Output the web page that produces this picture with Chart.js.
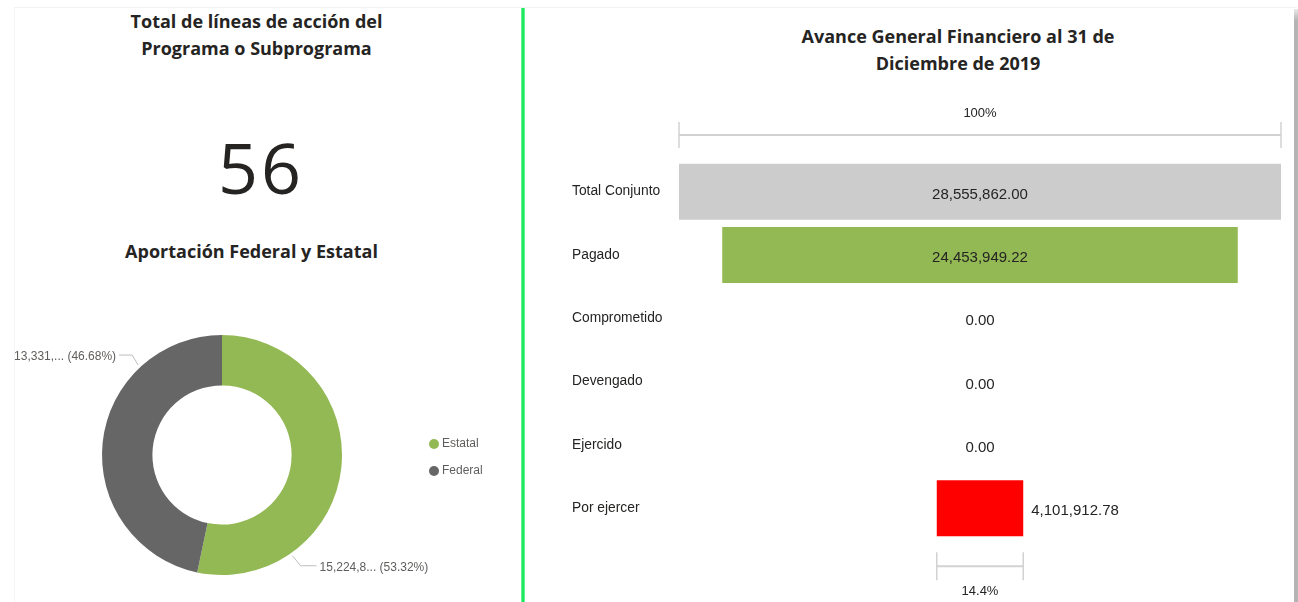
<!DOCTYPE html>
<html>
<head>
<meta charset="utf-8">
<script src="https://cdn.jsdelivr.net/npm/chart.js@4.4.1/dist/chart.umd.min.js"></script>
<style>
html,body{margin:0;padding:0;background:#fff;}
body{width:1298px;height:602px;overflow:hidden;position:relative;font-family:"Open Sans",Lato,sans-serif;}
.frame{position:absolute;left:14px;top:7px;width:1282px;height:600px;border-top:1px solid #f2f2f2;border-left:1px solid #f4f4f4;}
.shadow{position:absolute;left:1294px;top:9px;width:4px;height:593px;background:linear-gradient(to bottom,#e8e8e8 0px,#b4b4b4 12px,#b4b4b4 100%);}
.divider{position:absolute;left:521px;top:8px;width:4px;height:594px;background:linear-gradient(to right,#8dffb5 0%,#1ee860 30%,#1ee860 70%,#8dffb5 100%);}
.title{position:absolute;color:#252423;font-family:"Open Sans",sans-serif;font-weight:700;font-size:18px;text-align:center;line-height:27px;white-space:nowrap;}
.kpi{position:absolute;color:#252423;font-family:"Open Sans",sans-serif;font-weight:500;font-size:70px;text-align:center;line-height:70px;letter-spacing:3px;}
canvas{position:absolute;}
</style>
</head>
<body>
<div class="frame"></div>
<div class="shadow"></div>
<div class="divider"></div>

<div id="t1" class="title" style="left:14px;top:8px;width:485px;"></div>
<div id="kpi" class="kpi" style="left:111px;top:132px;width:300px;"></div>
<div id="t2" class="title" style="left:14px;top:238px;width:475px;"></div>
<div id="t3" class="title" style="left:700px;top:23px;width:516px;"></div>

<canvas id="donut" width="520" height="282" style="left:0px;top:320px;"></canvas>
<canvas id="funnel" width="735" height="502" style="left:560px;top:100px;"></canvas>

<script>
// ---------- DATA ----------
const titleKpi = ['Total de líneas de acción del', 'Programa o Subprograma'];
const kpiValue = 56;
const titleDonut = 'Aportación Federal y Estatal';
const titleFunnel = ['Avance General Financiero al 31 de', 'Diciembre de 2019'];

const donutLabels = ['Estatal', 'Federal'];
const donutValues = [15224850, 13331012];
const donutColors = ['#93B955', '#666666'];
const donutTruncChars = [8, 7];

const stages = ['Total Conjunto', 'Pagado', 'Comprometido', 'Devengado', 'Ejercido', 'Por ejercer'];
const amounts = [28555862.00, 24453949.22, 0, 0, 0, 4101912.78];
const stageColors = ['#CCCCCC', '#93B955', '#93B955', '#93B955', '#93B955', '#FF0000'];

// ---------- TEXT ----------
document.getElementById('t1').innerHTML = titleKpi.join('<br>');
document.getElementById('kpi').textContent = String(kpiValue);
document.getElementById('t2').textContent = titleDonut;
document.getElementById('t3').innerHTML = titleFunnel.join('<br>');

const fmt2 = v => v.toLocaleString('en-US', {minimumFractionDigits: 2, maximumFractionDigits: 2});
const fmt0 = v => v.toLocaleString('en-US', {maximumFractionDigits: 0});

// ---------- DONUT ----------
const donutDeco = {
  id: 'donutDeco',
  afterDraw(chart) {
    const ctx = chart.ctx;
    const meta = chart.getDatasetMeta(0);
    const total = donutValues.reduce((a, b) => a + b, 0);
    const anchors = [{ang: 55, dx: 8, dy: 10, len: 16, side: 1}, {ang: 227, dx: -6, dy: -10, len: 13, side: -1}];
    ctx.save();
    ctx.font = '12px "Liberation Sans", Arial, sans-serif';
    ctx.textBaseline = 'middle';
    meta.data.forEach((arc, i) => {
      const a = anchors[i];
      const r = arc.outerRadius + 3;
      const rad = a.ang * Math.PI / 180;
      const x0 = arc.x + r * Math.cos(rad), y0 = arc.y + r * Math.sin(rad);
      const x1 = x0 + a.dx, y1 = y0 + a.dy;
      const x2 = x1 + a.side * a.len;
      ctx.strokeStyle = '#bdbdbd';
      ctx.lineWidth = 1;
      ctx.beginPath();
      ctx.moveTo(x0, y0); ctx.lineTo(x1, y1); ctx.lineTo(x2, y1);
      ctx.stroke();
      const full = fmt0(donutValues[i]);
      const pct = (donutValues[i] / total * 100).toFixed(2);
      const txt = full.slice(0, donutTruncChars[i]) + '... (' + pct + '%)';
      ctx.fillStyle = '#605E5C';
      ctx.textAlign = a.side > 0 ? 'left' : 'right';
      ctx.fillText(txt, x2 + a.side * 3, y1 + 2);
    });
    const lx = chart.chartArea.right + 92, ly0 = chart.chartArea.top + 109;
    donutLabels.forEach((lab, i) => {
      const y = ly0 + i * 27;
      ctx.fillStyle = donutColors[i];
      ctx.beginPath(); ctx.arc(lx, y, 5, 0, Math.PI * 2); ctx.fill();
      ctx.fillStyle = '#605E5C';
      ctx.textAlign = 'left';
      ctx.fillText(lab, lx + 8, y);
    });
    ctx.restore();
  }
};

new Chart(document.getElementById('donut'), {
  type: 'doughnut',
  data: {labels: donutLabels, datasets: [{data: donutValues, backgroundColor: donutColors, borderWidth: 0}]},
  options: {
    responsive: false, animation: false, cutout: '58%',
    layout: {padding: {left: 102, right: 178, top: 15, bottom: 27}},
    plugins: {legend: {display: false}, tooltip: {enabled: false}}
  },
  plugins: [donutDeco]
});

// ---------- FUNNEL ----------
const funnelDeco = {
  id: 'funnelDeco',
  afterDatasetsDraw(chart) {
    const ctx = chart.ctx;
    const xs = chart.scales.x;
    const meta = chart.getDatasetMeta(0);
    const ca = chart.chartArea;
    ctx.save();
    ctx.textBaseline = 'middle';
    ctx.font = '15px "Liberation Sans", Arial, sans-serif';
    ctx.fillStyle = '#252423';
    meta.data.forEach((bar, i) => {
      const txt = fmt2(amounts[i]);
      const w = ctx.measureText(txt).width;
      const bw = Math.abs(xs.getPixelForValue(amounts[i] / 2) - xs.getPixelForValue(-amounts[i] / 2));
      const cx = xs.getPixelForValue(0);
      if (amounts[i] > 0 && w + 4 > bw) {
        ctx.textAlign = 'left';
        ctx.fillText(txt, cx + bw / 2 + 8, bar.y + 3);
      } else {
        ctx.textAlign = 'center';
        ctx.fillText(txt, cx, bar.y + 3);
      }
    });
    const bracket = (v, y, h) => {
      const l = xs.getPixelForValue(-v / 2), r = xs.getPixelForValue(v / 2);
      ctx.strokeStyle = '#d2d2d2';
      ctx.lineWidth = 2;
      ctx.beginPath(); ctx.moveTo(l, y); ctx.lineTo(r, y); ctx.stroke();
      ctx.lineWidth = 1.5;
      ctx.beginPath();
      ctx.moveTo(l, y - h); ctx.lineTo(l, y + h);
      ctx.moveTo(r, y - h); ctx.lineTo(r, y + h);
      ctx.stroke();
    };
    ctx.font = '13px "Liberation Sans", Arial, sans-serif';
    ctx.fillStyle = '#252423';
    ctx.textAlign = 'center';
    const cx = xs.getPixelForValue(0);
    const yTop = ca.top - 25;
    bracket(amounts[0], yTop, 13);
    ctx.fillText('100%', cx, yTop - 22);
    const last = amounts.length - 1;
    const lb = meta.data[last];
    const yBot = lb.y + lb.height / 2 + 30;
    bracket(amounts[last], yBot, 14);
    ctx.fillText((amounts[last] / amounts[0] * 100).toFixed(1) + '%', cx, yBot + 25);
    ctx.restore();
  }
};

new Chart(document.getElementById('funnel'), {
  type: 'bar',
  data: {
    labels: stages,
    datasets: [{
      data: amounts.map(v => [-v / 2, v / 2]),
      backgroundColor: stageColors,
      borderWidth: 0,
      barPercentage: 0.885,
      categoryPercentage: 1
    }]
  },
  options: {
    indexAxis: 'y', responsive: false, animation: false,
    layout: {padding: {left: 12, right: 14, top: 60, bottom: 62}},
    scales: {
      x: {display: false, min: -amounts[0] / 2, max: amounts[0] / 2},
      y: {
        grid: {display: false}, border: {display: false},
        ticks: {crossAlign: 'far', padding: 0, color: '#252423', font: {size: 13.8, family: '"Liberation Sans", Arial, sans-serif'}},
        afterFit(s) { s.width = 107; }
      }
    },
    plugins: {legend: {display: false}, tooltip: {enabled: false}}
  },
  plugins: [funnelDeco]
});
</script>
</body>
</html>
